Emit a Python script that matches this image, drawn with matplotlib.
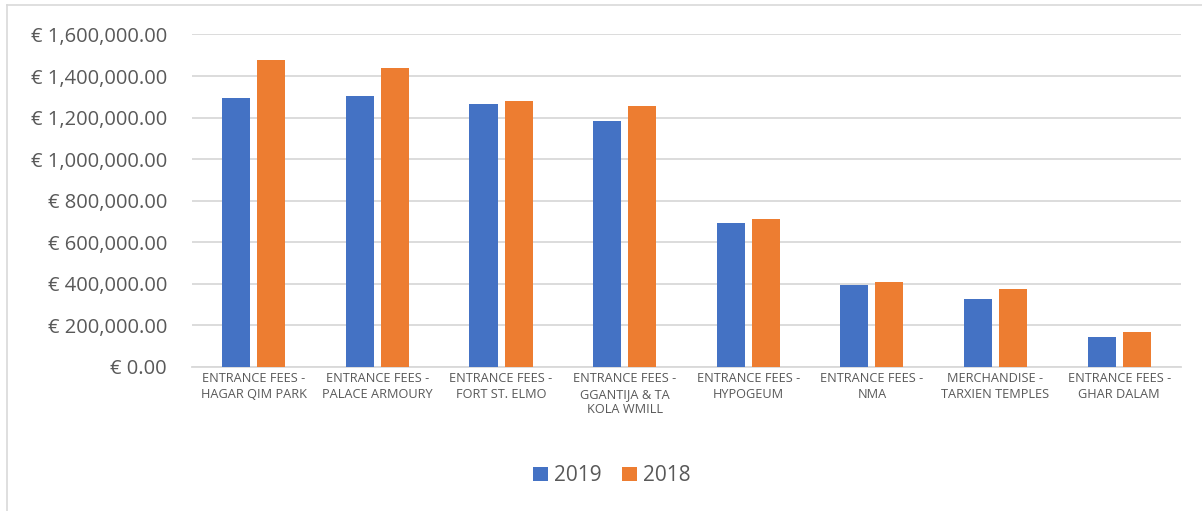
import matplotlib.pyplot as plt
import numpy as np
from matplotlib.lines import Line2D
from matplotlib.ticker import FuncFormatter

plt.rcParams["font.family"] = ["Open Sans", "DejaVu Sans"]

categories = [
    "ENTRANCE FEES -\nHAGAR QIM PARK",
    "ENTRANCE FEES -\nPALACE ARMOURY",
    "ENTRANCE FEES -\nFORT ST. ELMO",
    "ENTRANCE FEES -\nGGANTIJA & TA\nKOLA WMILL",
    "ENTRANCE FEES -\nHYPOGEUM",
    "ENTRANCE FEES -\nNMA",
    "MERCHANDISE -\nTARXIEN TEMPLES",
    "ENTRANCE FEES -\nGHAR DALAM",
]
rev_2019 = [1296000, 1304000, 1264000, 1181000, 692000, 394000, 325000, 144500]
rev_2018 = [1479000, 1441000, 1279000, 1255000, 712000, 407000, 373000, 167000]
y_ticks = [0, 200000, 400000, 600000, 800000, 1000000, 1200000, 1400000, 1600000]

BLUE = "#4472C4"
ORANGE = "#ED7D31"
TEXT = "#595959"
GRID = "#D9D9D9"

fig = plt.figure(figsize=(12.02, 5.11), dpi=100)
ax = fig.add_axes([0.1597, 0.2824, 0.8228, 0.6501])

x = np.arange(len(categories))
width = 0.227
off = 0.142
ax.bar(x - off, rev_2019, width, color=BLUE, label="2019", zorder=3)
ax.bar(x + off, rev_2018, width, color=ORANGE, label="2018", zorder=3)

ax.set_xlim(-0.5, len(categories) - 0.5)
ax.set_ylim(0, 1600000)
ax.set_yticks(y_ticks)
ax.yaxis.set_major_formatter(FuncFormatter(lambda v, p: f"€ {v:,.2f}"))
ax.set_xticks(x)
ax.set_xticklabels(categories, fontsize=9.2, color=TEXT, linespacing=1.25)
ax.tick_params(axis="y", labelsize=14.5, colors=TEXT, length=0, pad=18)
ax.tick_params(axis="x", length=0, pad=4)

ax.grid(axis="y", color=GRID, linewidth=1.3, zorder=0)
for s in ["top", "right", "left"]:
    ax.spines[s].set_visible(False)
ax.spines["bottom"].set_color(GRID)
ax.spines["bottom"].set_linewidth(1.3)

ax.legend(
    loc="center", bbox_to_anchor=(0.509, 0.0685), bbox_transform=fig.transFigure,
    ncol=2, frameon=False, fontsize=15, labelcolor=TEXT,
    handlelength=0.7, handleheight=0.7, handletextpad=0.3, columnspacing=1.0,
)

# chart-area frame (top and left edges)
fig.add_artist(Line2D([7 / 1202, 7 / 1202], [0, 1 - 5 / 511], color=GRID, linewidth=1.2))
fig.add_artist(Line2D([7 / 1202, 1], [1 - 5 / 511, 1 - 5 / 511], color=GRID, linewidth=1.2))

fig.savefig("out.png", dpi=100)
